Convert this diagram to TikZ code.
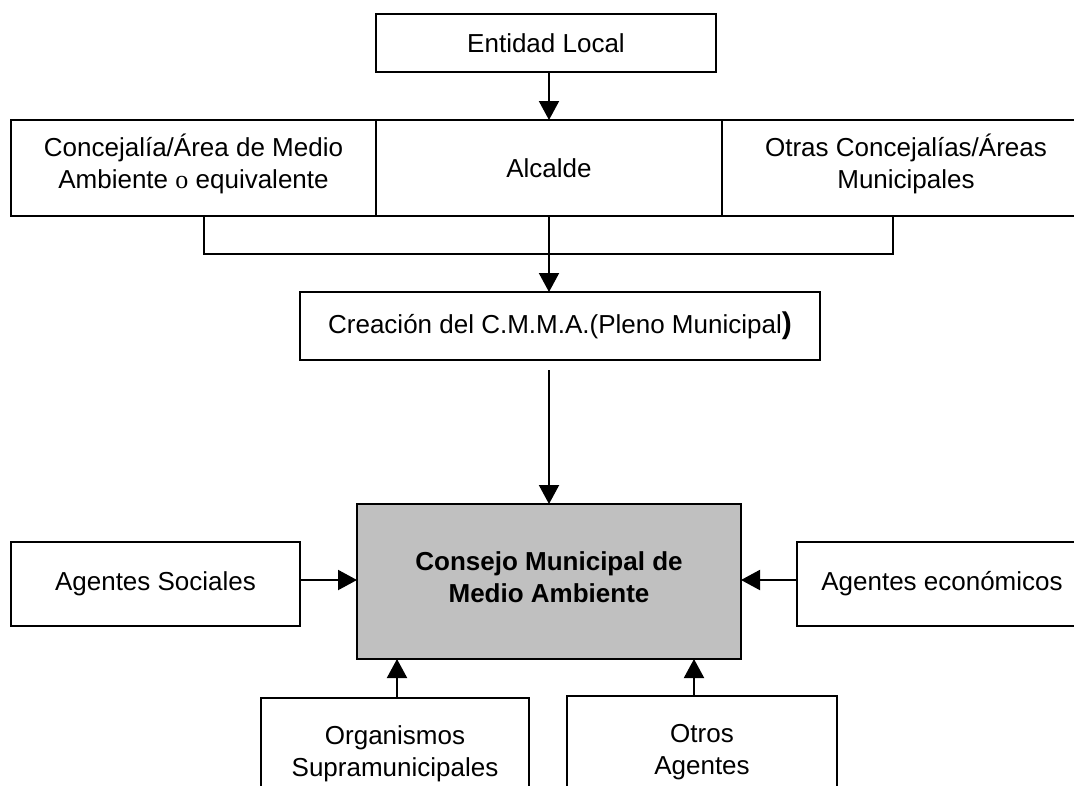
\documentclass[tikz,border=0pt]{standalone}
\usepackage{fontspec}
\setmainfont{Liberation Sans}
\newfontfamily\serifo{Liberation Serif}
\usetikzlibrary{arrows.meta,calc}
\definecolor{boxgray}{RGB}{192,192,192}
\begin{document}
\begin{tikzpicture}[x=1pt,y=-1pt,
  box/.style={draw,line width=2pt,rectangle,inner sep=0pt,outer sep=0pt,align=center,
    font=\fontsize{26}{32}\selectfont},
  arr/.style={line width=2pt,-{Triangle[width=20pt,length=19pt]}},
  ln/.style={line width=2pt}]
\useasboundingbox (0,0) rectangle (1074,785);
\fill[white] (0,0) rectangle (1074,785);
\clip (0,0) rectangle (1074,785);
% top
\node[box,minimum width=340pt,minimum height=58pt] (ent) at (546,43) {Entidad Local};
% row
\node[box,minimum width=365pt,minimum height=96pt,text depth=13.5pt] (conc) at (193.5,168) {Concejalía/Área de Medio\\Ambiente {\serifo o} equivalente};
\node[box,minimum width=346pt,minimum height=96pt] (alc) at (549,168) {Alcalde};
\node[box,minimum width=368pt,minimum height=96pt,text depth=13.5pt] (otras) at (906,168) {Otras Concejalías/Áreas\\Municipales};
% creation
\node[box,minimum width=520pt,minimum height=68pt] (crea) at (560,326) {Creación del C.M.M.A.(Pleno Municipal{\fontsize{30}{30}\selectfont\bfseries )}};
% council
\node[box,fill=boxgray,minimum width=384pt,minimum height=155pt,text depth=8pt,font=\fontsize{26}{32}\selectfont\bfseries] (cons) at (549,581.5) {Consejo Municipal de\\Medio Ambiente};
\node[box,minimum width=289pt,minimum height=84pt] (soc) at (155.5,584) {Agentes Sociales};
\node[box,minimum width=290pt,minimum height=84pt] (eco) at (942,584) {Agentes económicos};
\node[box,minimum width=268pt,minimum height=112pt] (org) at (395,754) {Organismos\\Supramunicipales};
\node[box,minimum width=270pt,minimum height=112pt] (otros) at (702,752) {Otros\\Agentes};
% connectors
\coordinate (bl) at (204,254);
\coordinate (br) at (893,254);
\draw[arr] (ent.south -| alc.north) -- (alc.north);
\draw[ln] (conc.south -| bl) -- (bl) -- (br) -- (otras.south -| br);
\draw[arr] (alc.south) -- (crea.north -| alc.south);
\draw[arr] ([yshift=-10pt]crea.south -| cons.north) -- (cons.north);
\draw[arr] ([yshift=4pt]soc.east) -- ([yshift=4pt]soc.east -| cons.west);
\draw[arr] ([yshift=4pt]eco.west) -- ([yshift=4pt]eco.west -| cons.east);
\draw[arr] ([xshift=2pt]org.north) -- ([xshift=2pt]org.north |- cons.south);
\draw[arr] ([xshift=-8pt]otros.north) -- ([xshift=-8pt]otros.north |- cons.south);
\end{tikzpicture}
\end{document}
